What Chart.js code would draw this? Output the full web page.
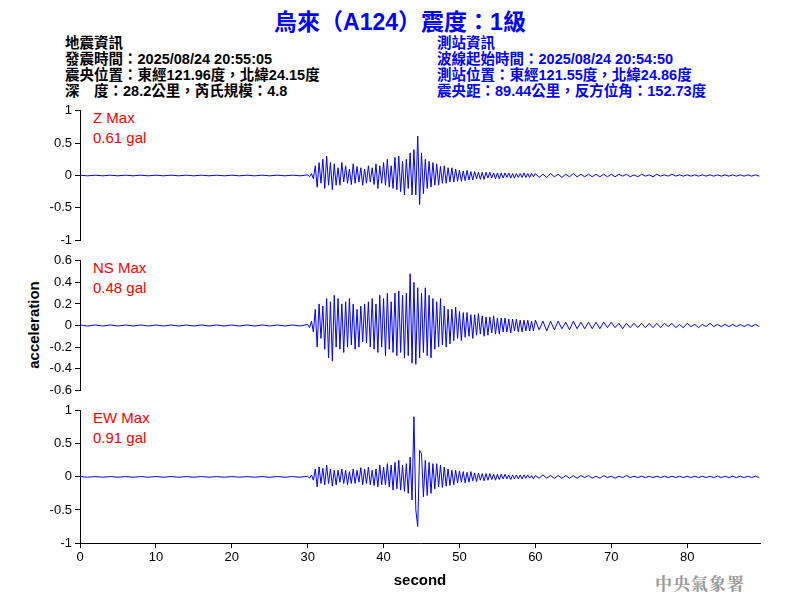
<!DOCTYPE html>
<html><head><meta charset="utf-8">
<script src="https://cdn.jsdelivr.net/npm/chart.js@4"></script>
<style>
body{margin:0;background:#fff;width:800px;height:600px;position:relative;overflow:hidden;font-family:"Noto Sans CJK TC",Arial,sans-serif}
canvas{position:absolute;left:0}
.t{position:absolute;white-space:nowrap}
.hdr{font-size:14.5px;line-height:16px;font-weight:bold;font-family:"Liberation Sans","Noto Sans CJK TC",sans-serif}
.lab{position:absolute;color:#f00;font:15px "Liberation Sans",Arial,sans-serif;line-height:20px;left:93px}
</style></head><body>
<div class="t" style="left:0;width:800px;text-align:center;top:3px;color:#0000ff;font:bold 23px 'Liberation Sans','Noto Sans CJK TC',sans-serif">烏來（A124）震度：1級</div>
<div class="t hdr" style="left:65px;top:35px;color:#000">地震資訊<br>發震時間：2025/08/24 20:55:05<br>震央位置：東經121.96度，北緯24.15度<br>深　度：28.2公里，芮氏規模：4.8</div>
<div class="t hdr" style="left:437px;top:35px;color:#0000ff">測站資訊<br>波線起始時間：2025/08/24 20:54:50<br>測站位置：東經121.55度，北緯24.86度<br>震央距：89.44公里，反方位角：152.73度</div>
<div class="lab" style="top:108px">Z Max<br>0.61 gal</div>
<div class="lab" style="top:258px">NS Max<br>0.48 gal</div>
<div class="lab" style="top:408px">EW Max<br>0.91 gal</div>
<div class="t" style="left:33px;top:325px;transform:translate(-50%,-50%) rotate(-90deg);font:bold 15px 'Liberation Sans',Arial,sans-serif">acceleration</div>
<div class="t" style="left:655px;top:570px;color:#999;font:bold 17px 'Noto Serif CJK TC','Noto Sans CJK TC',serif;letter-spacing:1px">中央氣象署</div>
<canvas id="c0" width="800" height="151" style="top:100px"></canvas>
<canvas id="c1" width="800" height="151" style="top:250px"></canvas>
<canvas id="c2" width="800" height="190" style="top:400px"></canvas>
<script>
// segments: quiet 0-29 (1 s step), strong 30-59.75 (0.25 s step), coda 60-89.5 (0.5 s step)
const quietStart=0, quietStep=1, strongStart=30, strongStep=0.25, codaStart=60, codaStep=0.5;
const xTicks=[0,10,20,30,40,50,60,70,80];
const zTicks=[1,0.5,0,-0.5,-1];
const nsTicks=[0.6,0.4,0.2,0,-0.2,-0.4,-0.6];

const zQuiet=[0.005,-0.005,0.005,-0.005,0.005,-0.005,0.005,-0.005,0.005,-0.005,0.005,-0.005,0.005,-0.005,0.005,-0.005,0.005,-0.005,0.005,-0.005,0.005,-0.005,0.005,-0.005,0.005,-0.005,0.005,-0.005,0.005,-0.005];
const zStrong=[0.01,-0.02,0.03,-0.05, 0.15,-0.18,0.2,-0.12, 0.25,-0.2,0.3,-0.15, 0.2,-0.22,0.18,-0.15, 0.12,-0.15,0.2,-0.1,
0.15,-0.12,0.1,-0.14, 0.18,-0.12,0.14,-0.1, 0.12,-0.15,0.1,-0.12, 0.15,-0.1,0.12,-0.14, 0.18,-0.2,0.15,-0.12,
0.2,-0.15,0.25,-0.18, 0.15,-0.2,0.28,-0.22, 0.3,-0.25,0.22,-0.3, 0.25,-0.2,0.35,-0.3, 0.4,-0.3,0.61,-0.45,
0.35,-0.28,0.25,-0.2, 0.22,-0.18,0.2,-0.15, 0.18,-0.15,0.14,-0.12, 0.15,-0.12,0.12,-0.1, 0.12,-0.1,0.1,-0.09,
0.08,-0.09,0.07,-0.08, 0.08,-0.07,0.06,-0.07, 0.06,-0.05,0.05,-0.06, 0.05,-0.06,0.05,-0.04, 0.05,-0.04,0.04,-0.05,
0.04,-0.05,0.04,-0.04, 0.04,-0.03,0.04,-0.04, 0.03,-0.04,0.03,-0.03, 0.03,-0.03,0.04,-0.03, 0.03,-0.03,0.03,-0.02];
const zCoda=[0.03,-0.03,0.02,-0.03,0.03,-0.02,0.02,-0.03,0.02,-0.02,0.03,-0.02,0.02,-0.02,0.02,-0.02,0.02,-0.02,0.02,-0.02,
0.02,-0.02,0.02,-0.01,0.02,-0.02,0.01,-0.02,0.02,-0.01,0.01,-0.02,0.02,-0.01,0.01,-0.01,0.02,-0.01,0.01,-0.01,
0.01,-0.01,0.01,-0.01,0.01,-0.01,0.01,-0.01,0.01,-0.01,0.01,-0.01,0.01,-0.01,0.01,-0.01,0.01,-0.01,0.01,-0.01];

const nsQuiet=[0.005,-0.005,0.005,-0.005,0.005,-0.005,0.005,-0.005,0.005,-0.005,0.005,-0.005,0.005,-0.005,0.005,-0.005,0.005,-0.005,0.005,-0.005,0.005,-0.005,0.005,-0.005,0.005,-0.005,0.005,-0.005,0.005,-0.005];
const nsStrong=[0.01,-0.02,0.04,-0.06, 0.15,-0.2,0.2,-0.12, 0.18,-0.22,0.25,-0.3, 0.22,-0.33,0.28,-0.2, 0.25,-0.22,0.2,-0.25,
0.22,-0.2,0.25,-0.18, 0.2,-0.22,0.15,-0.2, 0.18,-0.15,0.2,-0.16, 0.22,-0.2,0.25,-0.22, 0.2,-0.25,0.28,-0.2,
0.25,-0.28,0.3,-0.22, 0.22,-0.25,0.3,-0.28, 0.32,-0.25,0.28,-0.3, 0.3,-0.28,0.48,-0.35, 0.4,-0.36,0.35,-0.3,
0.3,-0.25,0.35,-0.28, 0.28,-0.3,0.25,-0.22, 0.22,-0.2,0.25,-0.18, 0.18,-0.2,0.15,-0.17, 0.15,-0.14,0.17,-0.12,
0.13,-0.14,0.12,-0.11, 0.12,-0.1,0.1,-0.12, 0.1,-0.09,0.11,-0.08, 0.09,-0.1,0.08,-0.09, 0.08,-0.07,0.09,-0.08,
0.07,-0.08,0.07,-0.06, 0.07,-0.06,0.06,-0.07, 0.06,-0.05,0.06,-0.06, 0.05,-0.06,0.05,-0.05, 0.05,-0.05,0.04,-0.05];
const nsCoda=[0.05,-0.04,0.04,-0.05,0.04,-0.04,0.04,-0.03,0.03,-0.04,0.04,-0.03,0.03,-0.03,0.03,-0.03,0.03,-0.03,0.03,-0.02,
0.03,-0.02,0.02,-0.03,0.02,-0.02,0.02,-0.02,0.02,-0.02,0.02,-0.02,0.02,-0.02,0.02,-0.01,0.02,-0.02,0.01,-0.02,
0.02,-0.01,0.01,-0.02,0.01,-0.01,0.02,-0.01,0.01,-0.01,0.01,-0.01,0.01,-0.01,0.01,-0.01,0.01,-0.01,0.01,-0.01];

const ewQuiet=[0.005,-0.005,0.005,-0.005,0.005,-0.005,0.005,-0.005,0.005,-0.005,0.005,-0.005,0.005,-0.005,0.005,-0.005,0.005,-0.005,0.005,-0.005,0.005,-0.005,0.005,-0.005,0.005,-0.005,0.005,-0.005,0.005,-0.005];
const ewStrong=[0.01,-0.02,0.03,-0.05, 0.12,-0.15,0.15,-0.1, 0.13,-0.12,0.18,-0.1, 0.12,-0.14,0.1,-0.12, 0.1,-0.08,0.12,-0.1,
0.1,-0.12,0.08,-0.1, 0.12,-0.1,0.1,-0.08, 0.14,-0.12,0.12,-0.1, 0.15,-0.12,0.1,-0.13, 0.12,-0.15,0.18,-0.12,
0.15,-0.12,0.2,-0.15, 0.18,-0.2,0.22,-0.18, 0.25,-0.2,0.18,-0.22, 0.2,-0.25,0.3,-0.35, 0.91,-0.5,-0.75,0.4,
0.35,-0.3,0.25,-0.28, 0.22,-0.25,0.2,-0.18, 0.2,-0.15,0.18,-0.16, 0.15,-0.14,0.12,-0.13, 0.1,-0.12,0.1,-0.09,
0.09,-0.08,0.08,-0.09, 0.07,-0.08,0.08,-0.06, 0.06,-0.07,0.06,-0.05, 0.05,-0.06,0.05,-0.05, 0.05,-0.04,0.04,-0.05,
0.04,-0.04,0.04,-0.03, 0.04,-0.03,0.03,-0.04, 0.03,-0.03,0.03,-0.03, 0.03,-0.03,0.03,-0.02, 0.03,-0.02,0.02,-0.03];
const ewCoda=[0.02,-0.02,0.03,-0.02,0.02,-0.02,0.02,-0.02,0.02,-0.02,0.02,-0.02,0.02,-0.01,0.02,-0.02,0.01,-0.02,0.02,-0.01,
0.01,-0.02,0.01,-0.01,0.02,-0.01,0.01,-0.01,0.01,-0.01,0.01,-0.01,0.01,-0.01,0.01,-0.01,0.01,-0.01,0.01,-0.01,
0.01,-0.01,0.01,-0.01,0.01,-0.01,0.01,-0.01,0.01,-0.01,0.01,-0.01,0.01,-0.01,0.01,-0.01,0.01,-0.01,0.01,-0.01];

function series(q,s,c){
  const pts=[];
  q.forEach((v,i)=>pts.push({x:quietStart+i*quietStep,y:v}));
  s.forEach((v,i)=>pts.push({x:strongStart+i*strongStep,y:v}));
  c.forEach((v,i)=>pts.push({x:codaStart+i*codaStep,y:v}));
  return pts;
}
const font={family:"'Liberation Sans',Arial,sans-serif",size:13};
function make(id,data,ticks,lim,bottom){
  new Chart(document.getElementById(id),{
    type:'line',
    data:{datasets:[{data:data,borderColor:'#0000ff',borderWidth:1,pointRadius:0,tension:0}]},
    options:{responsive:false,animation:false,devicePixelRatio:1,
      layout:{padding:{top:8,right:40,bottom:bottom?0:8,left:0}},
      plugins:{legend:{display:false},tooltip:{enabled:false}},
      scales:{
        x:{type:'linear',min:0,max:89.6,display:bottom,afterBuildTicks:s=>{s.ticks=xTicks.map(v=>({value:v}))},
          afterFit:s=>{s.height=bottom?47:0},
          grid:{drawOnChartArea:false,color:'#000',tickLength:5},border:{color:'#000'},
          ticks:{color:'#000',font:font,padding:2,maxRotation:0},
          title:{display:true,text:'second',color:'#000',font:{family:font.family,size:15,weight:'bold'},padding:{top:2,bottom:0}}},
        y:{min:-lim,max:lim,afterBuildTicks:s=>{s.ticks=ticks.map(v=>({value:v}))},
          afterFit:s=>{s.width=80},
          grid:{drawOnChartArea:false,color:'#000',tickLength:5},border:{color:'#000'},
          ticks:{color:'#000',font:font,padding:3,autoSkip:false,callback:v=>String(v)}}
      }}
  });
}
make('c0',series(zQuiet,zStrong,zCoda),zTicks,1,false);
make('c1',series(nsQuiet,nsStrong,nsCoda),nsTicks,0.6,false);
make('c2',series(ewQuiet,ewStrong,ewCoda),zTicks,1,true);
</script>
</body></html>
